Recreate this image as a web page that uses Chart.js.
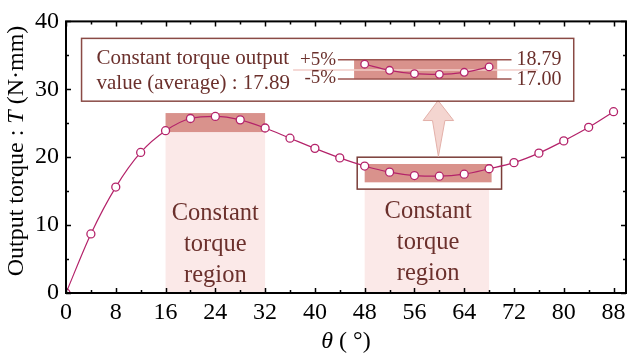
<!DOCTYPE html>
<html>
<head>
<meta charset="utf-8">
<script src="https://cdn.jsdelivr.net/npm/chart.js@4.4.1/dist/chart.umd.min.js"></script>
<style>
  html, body { margin: 0; padding: 0; background: #fff; }
</style>
</head>
<body>
<canvas id="myChart" width="634" height="360"></canvas>
<script>
// data
const THETA = [0, 4, 8, 12, 16, 20, 24, 28, 32, 36, 40, 44, 48, 52, 56, 60, 64, 68, 72, 76, 80, 84, 88];
const TORQUE = [0, 8.7, 15.6, 20.7, 23.9, 25.7, 26.0, 25.5, 24.3, 22.8, 21.3, 19.9, 18.7, 17.8, 17.3, 17.2, 17.5, 18.3, 19.2, 20.6, 22.4, 24.4, 26.7];
const X_TICKS = [0, 8, 16, 24, 32, 40, 48, 56, 64, 72, 80, 88];
const X_MINOR = [4, 12, 20, 28, 36, 44, 52, 60, 68, 76, 84];
const Y_TICKS = [0, 10, 20, 30, 40];
const Y_MINOR = [5, 15, 25, 35];
// points 48..68 are repeated in the inset
const ZOOM_FROM = 12;
const ZOOM_TO = 18;
const AVG_LABEL = '17.89';
const UPPER_LABEL = '18.79';
const LOWER_LABEL = '17.00';

const SERIF = '"Liberation Serif", "Times New Roman", serif';
const LINE_COLOR = '#b4236a';
const TEXT_BROWN = '#6b302c';
const FRAME_BROWN = '#8a4a45';
const DARK_BAND = '#d9928c';
const LIGHT_BAND = '#fbe9e8';

const points = THETA.map((t, i) => ({ x: t, y: TORQUE[i] }));
const insetPoints = points.slice(ZOOM_FROM, ZOOM_TO);

function fillBox(c, x0, x1, y0, y1, color) {
    const ctx = c.ctx, sx = c.scales.x, sy = c.scales.y;
    const l = sx.getPixelForValue(x0), r = sx.getPixelForValue(x1);
    const t = sy.getPixelForValue(y1), b = sy.getPixelForValue(y0);
    ctx.fillStyle = color;
    ctx.fillRect(l, t, r - l, b - t);
}

function strokeBox(c, x0, x1, y0, y1, color, w) {
    const ctx = c.ctx, sx = c.scales.x, sy = c.scales.y;
    const l = sx.getPixelForValue(x0), r = sx.getPixelForValue(x1);
    const t = sy.getPixelForValue(y1), b = sy.getPixelForValue(y0);
    ctx.strokeStyle = color;
    ctx.lineWidth = w;
    ctx.strokeRect(l, t, r - l, b - t);
}

function hLine(c, x0, x1, y, color, w) {
    const ctx = c.ctx, sx = c.scales.x, sy = c.scales.y;
    ctx.strokeStyle = color;
    ctx.lineWidth = w;
    ctx.beginPath();
    ctx.moveTo(sx.getPixelForValue(x0), sy.getPixelForValue(y));
    ctx.lineTo(sx.getPixelForValue(x1), sy.getPixelForValue(y));
    ctx.stroke();
}

function text(c, str, x, y, align, size, color) {
    const ctx = c.ctx;
    ctx.font = size + 'px ' + SERIF;
    ctx.fillStyle = color;
    ctx.textAlign = align;
    ctx.textBaseline = 'middle';
    ctx.fillText(str, c.scales.x.getPixelForValue(x), c.scales.y.getPixelForValue(y));
}

function regionLabel(c, xc, yc) {
    const ctx = c.ctx;
    const px = c.scales.x.getPixelForValue(xc), py = c.scales.y.getPixelForValue(yc);
    ctx.font = '24.5px ' + SERIF;
    ctx.fillStyle = TEXT_BROWN;
    ctx.textAlign = 'center';
    ctx.textBaseline = 'middle';
    ['Constant', 'torque', 'region'].forEach((s, i) => ctx.fillText(s, px, py + (i - 1) * 31));
}

const decorations = {
    id: 'decorations',
    beforeDatasetsDraw(c) {
        const ctx = c.ctx, sx = c.scales.x, sy = c.scales.y;
        ctx.save();
        // left constant torque region
        fillBox(c, 16, 32, 0, 23.7, LIGHT_BAND);
        fillBox(c, 16, 32, 23.7, 26.5, DARK_BAND);
        regionLabel(c, 24, 7.1);
        // right constant torque region
        fillBox(c, 48, 68, 0, 15.3, LIGHT_BAND);
        fillBox(c, 48, 68.4, 16.3, 19.0, DARK_BAND);
        strokeBox(c, 46.8, 70, 15.3, 20, '#7a3d38', 1.5);
        regionLabel(c, 58.2, 7.4);

        // arrow from the box up to the inset
        const ax = (v) => sx.getPixelForValue(v), ay = (v) => sy.getPixelForValue(v);
        ctx.beginPath();
        ctx.moveTo(ax(59.8), ay(28.35));
        ctx.lineTo(ax(62.3), ay(25.4));
        ctx.lineTo(ax(60.9), ay(25.4));
        ctx.lineTo(ax(59.85), ay(20.1));
        ctx.lineTo(ax(58.9), ay(25.4));
        ctx.lineTo(ax(57.4), ay(25.4));
        ctx.closePath();
        ctx.fillStyle = '#f4d5d0';
        ctx.fill();
        ctx.strokeStyle = '#e3b0a9';
        ctx.lineWidth = 1;
        ctx.stroke();

        // inset
        strokeBox(c, 2.5, 81.6, 28.25, 37.5, FRAME_BROWN, 1.5);
        fillBox(c, 46.3, 69.3, 31.5, 34.35, DARK_BAND);
        hLine(c, 36.5, 75.8, 32.85, '#f2cdc8', 1.5);
        hLine(c, 43.7, 71.6, 34.35, '#9c5550', 1.5);
        hLine(c, 43.7, 71.6, 31.5, '#9c5550', 1.5);
        text(c, 'Constant torque output', 4.9, 34.6, 'left', 21, TEXT_BROWN);
        text(c, 'value (average) : ' + AVG_LABEL, 4.9, 30.9, 'left', 21, TEXT_BROWN);
        text(c, '+5%', 43.4, 34.3, 'right', 19, TEXT_BROWN);
        text(c, '-5%', 43.4, 31.6, 'right', 19, TEXT_BROWN);
        text(c, UPPER_LABEL, 72.4, 34.3, 'left', 20, TEXT_BROWN);
        text(c, LOWER_LABEL, 72.4, 31.4, 'left', 20, TEXT_BROWN);
        ctx.restore();
    },
    afterDraw(c) {
        const ctx = c.ctx, a = c.chartArea, sx = c.scales.x, sy = c.scales.y;
        ctx.save();
        ctx.strokeStyle = '#000';
        ctx.lineWidth = 2;
        ctx.strokeRect(a.left, a.top, a.right - a.left, a.bottom - a.top);
        ctx.lineWidth = 1.5;
        ctx.beginPath();
        const xt = (v, len) => {
            const p = Math.round(sx.getPixelForValue(v)) + 0.5;
            ctx.moveTo(p, a.bottom); ctx.lineTo(p, a.bottom - len);
            ctx.moveTo(p, a.top); ctx.lineTo(p, a.top + len);
        };
        const yt = (v, len) => {
            const p = Math.round(sy.getPixelForValue(v)) + 0.5;
            ctx.moveTo(a.left, p); ctx.lineTo(a.left + len, p);
            ctx.moveTo(a.right, p); ctx.lineTo(a.right - len, p);
        };
        X_TICKS.forEach(v => xt(v, 5));
        X_MINOR.forEach(v => xt(v, 3));
        Y_TICKS.forEach(v => yt(v, 5));
        Y_MINOR.forEach(v => yt(v, 3));
        ctx.stroke();

        // axis titles with italic symbols
        const normal = '24px ' + SERIF, italic = 'italic 24px ' + SERIF;
        const parts = (list) => {
            let w = 0;
            list.forEach(p => { ctx.font = p[1]; w += ctx.measureText(p[0]).width; });
            return w;
        };
        ctx.fillStyle = '#000';
        ctx.textBaseline = 'middle';
        ctx.textAlign = 'left';
        const xTitle = [['θ', italic], [' ( °)', normal]];
        let x = (a.left + a.right) / 2 - parts(xTitle) / 2;
        xTitle.forEach(p => { ctx.font = p[1]; ctx.fillText(p[0], x, 342); x += ctx.measureText(p[0]).width; });

        const yTitle = [['Output torque : ', normal], ['T', italic], [' (N·mm)', normal]];
        ctx.translate(17, 151);
        ctx.rotate(-Math.PI / 2);
        x = -parts(yTitle) / 2;
        yTitle.forEach(p => { ctx.font = p[1]; ctx.fillText(p[0], x, 0); x += ctx.measureText(p[0]).width; });
        ctx.restore();
    }
};

const config = {
    type: 'line',
    data: {
        datasets: [
            {
                data: points,
                borderColor: LINE_COLOR,
                borderWidth: 1.2,
                cubicInterpolationMode: 'monotone',
                pointRadius: 4,
                pointBackgroundColor: '#fff',
                pointBorderColor: LINE_COLOR,
                pointBorderWidth: 1.3
            },
            {
                data: insetPoints,
                yAxisID: 'yInset',
                borderColor: LINE_COLOR,
                borderWidth: 1.2,
                cubicInterpolationMode: 'monotone',
                pointRadius: 3.8,
                pointBackgroundColor: '#fff',
                pointBorderColor: LINE_COLOR,
                pointBorderWidth: 1.3,
                clip: false
            }
        ]
    },
    options: {
        responsive: false,
        animation: false,
        layout: { padding: { top: 15, right: 8, left: 0, bottom: 0 } },
        plugins: {
            legend: { display: false },
            tooltip: { enabled: false }
        },
        scales: {
            x: {
                type: 'linear',
                min: 0,
                max: 90,
                afterBuildTicks: s => { s.ticks = X_TICKS.map(v => ({ value: v })); },
                afterFit: s => { s.height = 67; },
                grid: { display: false, drawTicks: false },
                border: { display: false },
                ticks: { padding: 5, color: '#000', maxRotation: 0, font: { family: SERIF, size: 24 } }
            },
            y: {
                min: 0,
                max: 40,
                afterBuildTicks: s => { s.ticks = Y_TICKS.map(v => ({ value: v })); },
                afterFit: s => { s.width = 66; },
                grid: { display: false, drawTicks: false },
                border: { display: false },
                ticks: { padding: 7, color: '#000', font: { family: SERIF, size: 24 } }
            },
            yInset: {
                display: false,
                min: -15,
                max: 25
            }
        }
    },
    plugins: [decorations]
};

const ctxChart = document.getElementById('myChart').getContext('2d');
const chart = new Chart(ctxChart, config);
</script>
</body>
</html>
